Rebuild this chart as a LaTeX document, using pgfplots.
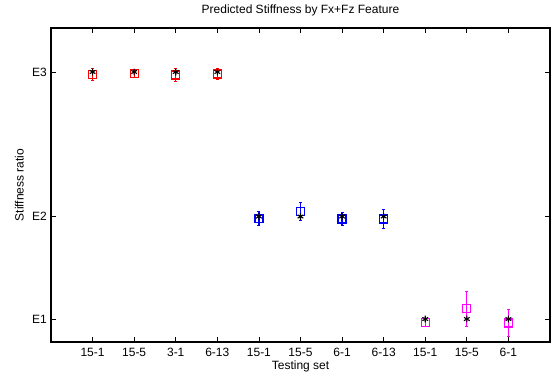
\documentclass[border=0pt]{standalone}
\usepackage{pgfplots}
\pgfplotsset{compat=1.18}
\usepackage{fontspec}
\setmainfont{Liberation Sans}
\definecolor{setred}{RGB}{255,0,0}
\definecolor{setblue}{RGB}{0,0,255}
\definecolor{setmag}{RGB}{255,0,255}

% predicted stiffness: mean (y) and spread (e) per testing set
\pgfplotstableread{
x y e
1 3.387 0.060
2 3.393 0.034
3 3.380 0.060
4 3.390 0.054
}\groupA
\pgfplotstableread{
x y e
5 1.979 0.068
6 2.047 0.090
7 1.976 0.066
8 1.976 0.091
}\groupB
\pgfplotstableread{
x y e
9  0.968 0.040
10 1.102 0.171
11 0.961 0.130
}\groupC

\begin{document}
\fontsize{12bp}{14bp}\selectfont
\begin{tikzpicture}
\begin{axis}[
  scale only axis, width=499bp, height=314bp,
  xmin=0, xmax=12, ymin=0.776, ymax=3.839,
  xtick={1,...,11},
  xticklabels={15-1,15-5,3-1,6-13,15-1,15-5,6-1,6-13,15-1,15-5,6-1},
  ytick={1,2,3.41}, yticklabels={E1,E2,E3},
  tick align=inside, major tick length=5bp,
  tick style={black, line width=0.8bp},
  axis line style={line width=1.1bp},
  xticklabel style={anchor=base, yshift=-14.5bp},
  title={Predicted Stiffness by Fx+Fz Feature},
  title style={at={(axis description cs:0.5,1)}, anchor=base, yshift=9bp},
  xlabel={Testing set},
  xlabel style={at={(axis description cs:0.5,0)}, anchor=base, yshift=-27bp},
  ylabel={Stiffness ratio},
  ylabel style={at={(axis description cs:-0.055,0.5)}, anchor=base},
  clip=false,
  every error bar/.style={},
]
\addplot[only marks, setred, mark=square, mark size=4bp, mark options={line width=1.2bp},
  error bars/.cd, y dir=both, y explicit,
  error bar style={line width=1.3bp},
  error mark options={rotate=90, mark size=1.5bp, line width=1bp}]
  table[x=x, y=y, y error=e] {\groupA};
\addplot[only marks, setblue, mark=square, mark size=4bp, mark options={line width=1.2bp},
  error bars/.cd, y dir=both, y explicit,
  error bar style={line width=1.3bp},
  error mark options={rotate=90, mark size=1.5bp, line width=1bp}]
  table[x=x, y=y, y error=e] {\groupB};
\addplot[only marks, setmag, mark=square, mark size=4bp, mark options={line width=1.2bp},
  error bars/.cd, y dir=both, y explicit,
  error bar style={line width=1.3bp},
  error mark options={rotate=90, mark size=1.5bp, line width=1bp}]
  table[x=x, y=y, y error=e] {\groupC};
% reference stiffness of each testing set
\addplot[only marks, black, mark=asterisk, mark size=3.3bp, mark options={line width=1.1bp}]
  coordinates {(1,3.41) (2,3.41) (3,3.41) (4,3.41)
               (5,2) (6,2) (7,2) (8,2)
               (9,1) (10,1) (11,1)};
\end{axis}
\pgfresetboundingbox
\path[use as bounding box]
  ([shift={(-51bp,-30bp)}]current axis.south west) rectangle
  ([shift={(1bp,28bp)}]current axis.north east);
\end{tikzpicture}
\end{document}
